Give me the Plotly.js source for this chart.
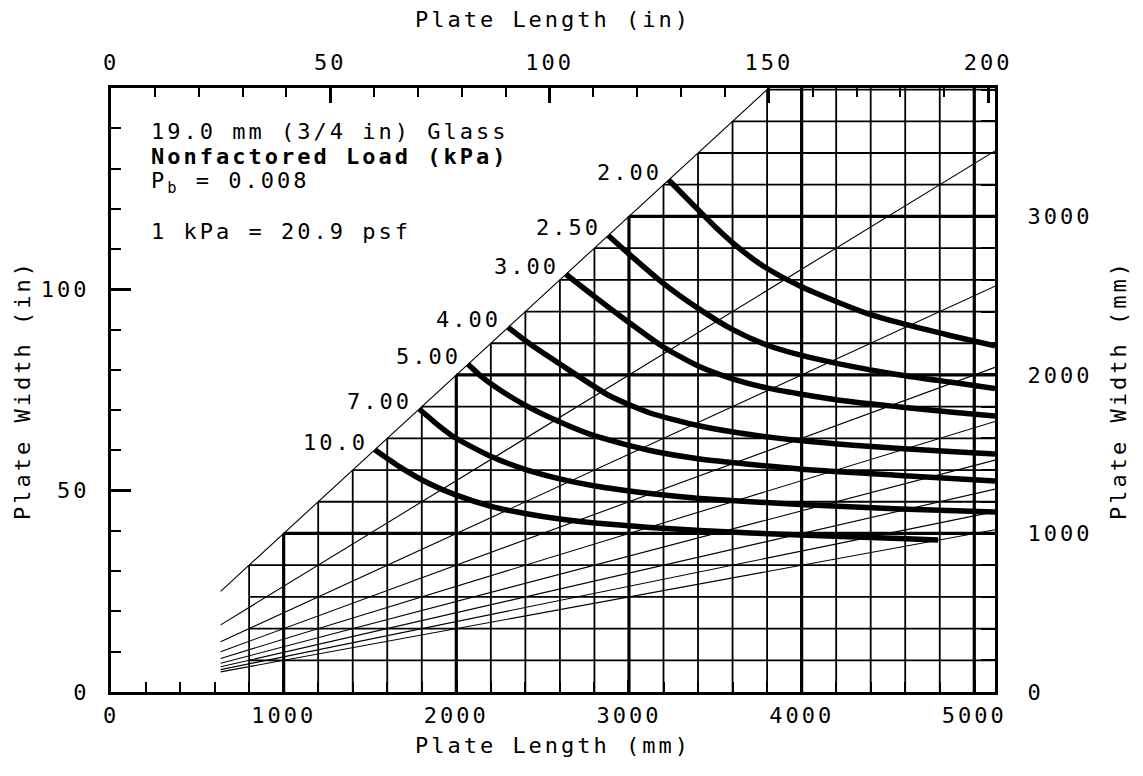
<!DOCTYPE html>
<html>
<head>
<meta charset="utf-8">
<script src="https://cdn.plot.ly/plotly-3.0.1.min.js"></script>
<style>
html, body { margin: 0; padding: 0; background: #fff; }
svg text { letter-spacing: 3px; }
</style>
</head>
<body>
<div id="chart" style="width:1143px;height:776px;"></div>
<script>
// ---- axis extents (mm / in) ----
const lengthMaxMm = 5120;
const widthMaxMm = 3810;
const lengthMaxIn = 5120 / 25.4;
const widthMaxIn = 150;

// ---- tick labels ----
const lengthTicksMm = [0, 1000, 2000, 3000, 4000, 5000];
const lengthTicksIn = [0, 50, 100, 150, 200];
const widthTicksIn = [0, 50, 100];
const widthTicksMm = [0, 1000, 2000, 3000];

// ---- grid (mm) ----
const gridStartMm = 800;
const verticalLightMm = [800, 1200, 1400, 1600, 1800, 2200, 2400, 2600, 2800, 3200, 3400, 3600, 3800, 4200, 4400, 4600, 4800];
const verticalHeavyMm = [1000, 2000, 3000, 4000, 5000];
const horizontalLightMm = [200, 400, 600, 800, 1200, 1400, 1600, 1800, 2200, 2400, 2600, 2800, 3200, 3400, 3600, 3800];
const horizontalHeavyMm = [1000, 2000, 3000];

// ---- aspect-ratio fan lines (length / width) ----
const fanStartMm = 635;
const aspectRatios = [1, 1.5, 2, 2.5, 3, 3.5, 4, 4.5, 5];

// ---- nonfactored load curves (plate length mm, plate width mm) ----
const loadLabels = ['2.00', '2.50', '3.00', '4.00', '5.00', '7.00', '10.0'];
const load200L = [3230, 3392, 3508, 3604, 3701, 3798, 3990, 4203, 4377, 4570, 4859, 5120];
const load200W = [3230, 3051, 2925, 2830, 2746, 2673, 2561, 2462, 2389, 2328, 2249, 2183];
const load250L = [2880, 2996, 3199, 3401, 3604, 3798, 3990, 4203, 4570, 4859, 5120];
const load250W = [2880, 2767, 2578, 2420, 2284, 2189, 2126, 2073, 2000, 1955, 1915];
const load300L = [2635, 2803, 2996, 3199, 3401, 3604, 3798, 3990, 4280, 4570, 4859, 5120];
const load300W = [2635, 2492, 2334, 2176, 2056, 1974, 1918, 1880, 1832, 1798, 1766, 1741];
const load400L = [2300, 2427, 2600, 2890, 3122, 3411, 3701, 3990, 4280, 4570, 4859, 5120];
const load400W = [2300, 2195, 2069, 1867, 1760, 1678, 1624, 1586, 1558, 1536, 1517, 1501];
const load500L = [2068, 2155, 2253, 2398, 2600, 2803, 3122, 3411, 3990, 4570, 5120];
const load500W = [2068, 1981, 1905, 1810, 1703, 1615, 1523, 1470, 1407, 1366, 1331];
const load700L = [1785, 1894, 1996, 2195, 2398, 2600, 2803, 3122, 3411, 3990, 4570, 5120];
const load700W = [1785, 1684, 1602, 1489, 1404, 1344, 1299, 1252, 1221, 1183, 1154, 1135];
const load1000L = [1528, 1674, 1848, 1996, 2195, 2398, 2600, 2803, 3122, 3411, 3990, 4570, 4790];
const load1000W = [1528, 1419, 1312, 1243, 1173, 1126, 1091, 1066, 1038, 1019, 990, 968, 959];

const curveL = [load200L, load250L, load300L, load400L, load500L, load700L, load1000L];
const curveW = [load200W, load250W, load300W, load400W, load500W, load700W, load1000W];

// ---- helpers to build segment traces ----
function gridSegments(verticals, horizontals) {
  const x = [], y = [];
  verticals.forEach(L => { x.push(L, L, null); y.push(0, Math.min(L, widthMaxMm), null); });
  horizontals.forEach(W => { x.push(Math.max(W, gridStartMm), lengthMaxMm, null); y.push(W, W, null); });
  return {x, y};
}
const lightGrid = gridSegments(verticalLightMm, horizontalLightMm);
const heavyGrid = gridSegments(verticalHeavyMm, horizontalHeavyMm);

const fanX = [], fanY = [];
aspectRatios.forEach(r => { fanX.push(fanStartMm, lengthMaxMm, null); fanY.push(fanStartMm / r, lengthMaxMm / r, null); });

const FONT = 'DejaVu Sans Mono, Liberation Mono, monospace';

const traces = [
  {x: lightGrid.x, y: lightGrid.y, mode: 'lines', line: {color: '#000', width: 1.8}, hoverinfo: 'skip', showlegend: false},
  {x: heavyGrid.x, y: heavyGrid.y, mode: 'lines', line: {color: '#000', width: 3.2}, hoverinfo: 'skip', showlegend: false},
  {x: fanX, y: fanY, mode: 'lines', line: {color: '#000', width: 1.1}, hoverinfo: 'skip', showlegend: false}
];
curveL.forEach((L, i) => {
  traces.push({x: L, y: curveW[i], mode: 'lines', name: loadLabels[i] + ' kPa',
    line: {color: '#000', width: 5.5, shape: 'spline', smoothing: 0.6}, showlegend: false});
});
// empty traces so the secondary (inch) axes are registered as overlays
traces.push({x: [], y: [], xaxis: 'x2', yaxis: 'y', mode: 'lines', hoverinfo: 'skip', showlegend: false});
traces.push({x: [], y: [], xaxis: 'x', yaxis: 'y2', mode: 'lines', hoverinfo: 'skip', showlegend: false});

const annotations = curveL.map((L, i) => ({
  x: L[0], y: curveW[i][0], xref: 'x', yref: 'y', text: loadLabels[i], showarrow: false,
  xanchor: 'right', yanchor: 'bottom', xshift: -5, yshift: -7,
  font: {family: FONT, size: 22, color: '#000'}
}));
const noteLines = ['19.0 mm (3/4 in) Glass', '<b>Nonfactored Load (kPa)</b>', 'P<sub>b</sub> = 0.008', '1 kPa = 20.9 psf'];
const noteY = [0.928, 0.8874, 0.844, 0.7624];
noteLines.forEach((t, i) => annotations.push({
  x: 0.043, y: noteY[i], xref: 'paper', yref: 'paper', text: t, showarrow: false,
  xanchor: 'left', yanchor: 'middle', font: {family: FONT, size: 22, color: '#000'}
}));

const axisCommon = {
  showgrid: false, zeroline: false, showline: true, linecolor: '#000', linewidth: 3,
  ticks: 'inside', tickcolor: '#000', tickfont: {family: FONT, size: 22, color: '#000'},
  tickmode: 'array', fixedrange: true
};
const titleFont = {family: FONT, size: 22, color: '#000'};

const layout = {
  width: 1143, height: 776,
  margin: {l: 111, r: 148, t: 88, b: 84, autoexpand: false},
  paper_bgcolor: '#fff', plot_bgcolor: '#fff',
  showlegend: false,
  font: {family: FONT, size: 22, color: '#000'},
  xaxis: Object.assign({}, axisCommon, {
    range: [0, lengthMaxMm], tickvals: lengthTicksMm, ticklen: 12, tickwidth: 3,
    minor: {ticks: 'inside', tickmode: 'linear', tick0: 0, dtick: 200, ticklen: 10, tickwidth: 2, tickcolor: '#000', showgrid: false},
    ticklabelstandoff: 2,
    title: {text: 'Plate Length (mm)', font: titleFont, standoff: 11}
  }),
  xaxis2: Object.assign({}, axisCommon, {
    overlaying: 'x', side: 'top', range: [0, lengthMaxIn], tickvals: lengthTicksIn, ticklen: 15, tickwidth: 3,
    minor: {ticks: 'inside', tickmode: 'linear', tick0: 0, dtick: 10, ticklen: 9, tickwidth: 2, tickcolor: '#000', showgrid: false},
    ticklabelstandoff: 6,
    title: {text: 'Plate Length (in)', font: titleFont, standoff: 17}
  }),
  yaxis: Object.assign({}, axisCommon, {
    side: 'right', range: [0, widthMaxMm], tickvals: widthTicksMm, ticklen: 12, tickwidth: 3,
    minor: {ticks: 'inside', tickmode: 'linear', tick0: 0, dtick: 200, ticklen: 14, tickwidth: 2, tickcolor: '#000', showgrid: false},
    ticklabelstandoff: 25,
    title: {text: 'Plate Width (mm)', font: titleFont, standoff: 20}
  }),
  yaxis2: Object.assign({}, axisCommon, {
    overlaying: 'y', side: 'left', range: [0, widthMaxIn], tickvals: widthTicksIn, ticklen: 20, tickwidth: 3,
    minor: {ticks: 'inside', tickmode: 'linear', tick0: 0, dtick: 10, ticklen: 10, tickwidth: 2, tickcolor: '#000', showgrid: false},
    ticklabelstandoff: 14,
    title: {text: 'Plate Width (in)', font: titleFont, standoff: 5}
  }),
  annotations: annotations
};

Plotly.newPlot('chart', traces, layout, {staticPlot: true, displayModeBar: false});
</script>
</body>
</html>
